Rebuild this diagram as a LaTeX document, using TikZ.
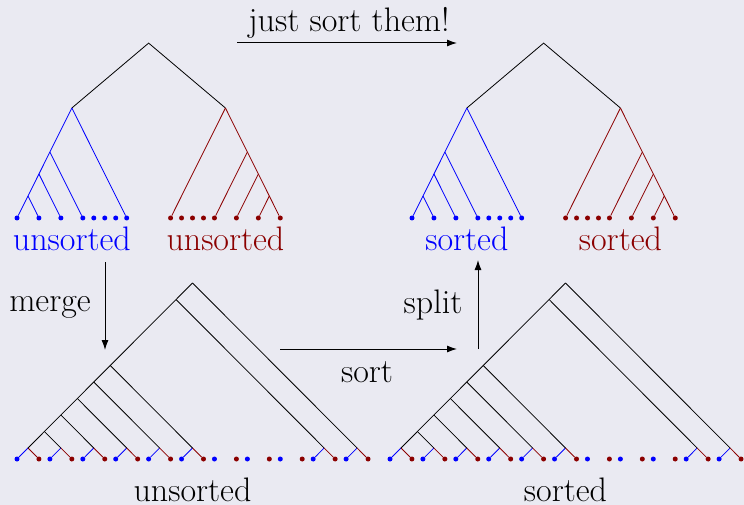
\documentclass[tikz,border=0pt]{standalone}
\usetikzlibrary{arrows.meta}
\definecolor{bgc}{RGB}{234,234,242}
\definecolor{dred}{RGB}{139,0,0}
\definecolor{bblue}{RGB}{0,0,255}
\tikzset{
  edge/.style={line width=0.8pt},
  bl/.style={edge, bblue},
  rd/.style={edge, dred},
  bk/.style={edge, black},
  bdot/.style={circle, fill=bblue, inner sep=0pt, minimum size=5pt},
  rdot/.style={circle, fill=dred, inner sep=0pt, minimum size=5pt},
  arr/.style={line width=1pt, -{Latex[length=10pt,width=7pt]}},
  lbl/.style={font=\fontsize{34}{40}\selectfont, anchor=base, inner sep=0pt},
}
\newcommand{\TopTree}[4]{%
\begin{scope}[shift={(#2,218)}, x=10.97pt, y=11pt]
  \foreach \i/\p in {0/0,1/2,2/4,3/6,4/7,5/8,6/9,7/10}
    \node[bdot] (#1b\i) at (\p,0) {};
  \foreach \i/\p in {0/14,1/15,2/16,3/17,4/18,5/20,6/22,7/24}
    \node[rdot] (#1r\i) at (\p,0) {};
  \coordinate (#1B1) at (5,10);
  \coordinate (#1B2) at (3,6);
  \coordinate (#1B3) at (2,4);
  \coordinate (#1B4) at (1,2);
  \coordinate (#1R1) at (19,10);
  \coordinate (#1R2) at (21,6);
  \coordinate (#1R3) at (22,4);
  \coordinate (#1R4) at (23,2);
  \coordinate (#1T) at (12,15.9);
  \draw[bk] (#1B1) -- (#1T) -- (#1R1);
  \draw[bl] (#1B1) -- (#1B2) -- (#1B3) -- (#1B4) -- (#1b0);
  \draw[bl] (#1B1) -- (#1b7);
  \draw[bl] (#1B2) -- (#1b3);
  \draw[bl] (#1B3) -- (#1b2);
  \draw[bl] (#1B4) -- (#1b1);
  \draw[rd] (#1R1) -- (#1R2) -- (#1R3) -- (#1R4) -- (#1r7);
  \draw[rd] (#1R1) -- (#1r0);
  \draw[rd] (#1R2) -- (#1r4);
  \draw[rd] (#1R3) -- (#1r5);
  \draw[rd] (#1R4) -- (#1r6);
  \node[lbl, text=bblue] (#1lb) at (5,-3) {#3};
  \node[lbl, text=dred] (#1lr) at (19,-3) {#4};
\end{scope}}
\newcommand{\BotTree}[3]{%
\begin{scope}[shift={(#2,459)}, x=10.97pt, y=11pt]
  \foreach \k in {0,...,10}{
    \pgfmathsetmacro{\xb}{3*\k}
    \pgfmathsetmacro{\xr}{3*\k+2}
    \node[bdot] (#1b\k) at (\xb,0) {};
    \node[rdot] (#1r\k) at (\xr,0) {};
    \coordinate (#1S\k) at ({1+1.5*\k},{1+1.5*\k});
  }
  \foreach \k in {0,1,2,3,4,5,9,10}{
    \coordinate (#1P\k) at ({1+3*\k},1);
    \draw[bl] (#1P\k) -- (#1b\k);
    \draw[rd] (#1P\k) -- (#1r\k);
  }
  \draw[bk] (#1S0) -- (#1S10);
  \foreach \k in {1,2,3,4,5,9,10}
    \draw[bk] (#1S\k) -- (#1P\k);
  \node[lbl] (#1lab) at (16,-3.9) {#3};
\end{scope}}
\begin{document}
\begin{tikzpicture}[x=1pt, y=-1pt]
  \fill[bgc] (0,0) rectangle (744,505);
  \useasboundingbox (0,0) rectangle (744,505);
  \TopTree{tl}{17}{unsorted}{unsorted}
  \TopTree{tr}{412}{sorted}{sorted}
  \BotTree{bl}{17}{unsorted}
  \BotTree{br}{390}{sorted}
  % arrows
  \coordinate (js1) at (237,43);
  \coordinate (js2) at (457,43);
  \draw[arr] (js1) -- (js2);
  \node[lbl] (jslab) at (349,32) {just sort them!};
  \coordinate (mg1) at (105,262);
  \coordinate (mg2) at (105,350);
  \draw[arr] (mg1) -- (mg2);
  \node[lbl] (mglab) at (50,311) {merge};
  \coordinate (so1) at (280,349);
  \coordinate (so2) at (457,349);
  \draw[arr] (so1) -- (so2);
  \node[lbl] (solab) at (367,382) {sort};
  \coordinate (sp1) at (478,349);
  \coordinate (sp2) at (478,260);
  \draw[arr] (sp1) -- (sp2);
  \node[lbl] (splab) at (433,313) {split};
\end{tikzpicture}
\end{document}
